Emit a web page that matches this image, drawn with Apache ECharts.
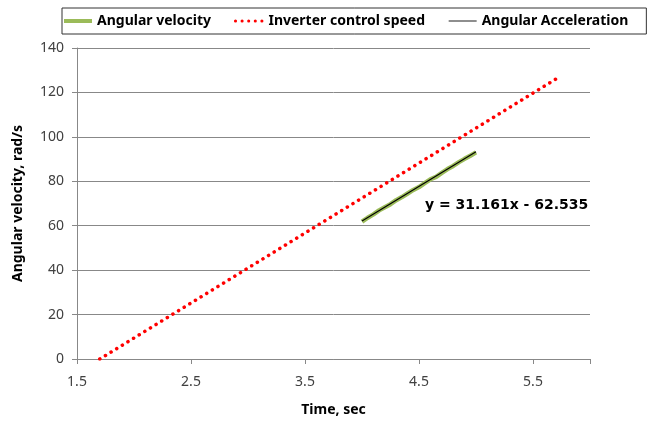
<!DOCTYPE html>
<html>
<head>
<meta charset="utf-8">
<script src="https://cdn.jsdelivr.net/npm/echarts@6/dist/echarts.min.js"></script>
<style>
  html, body { margin: 0; padding: 0; background: #fff; }
  #chart { width: 654px; height: 422px; }
</style>
</head>
<body>
<div id="chart"></div>
<script>
// measured angular velocity, 4.0 .. 5.0 s
const velTime = [4.0, 4.05, 4.1, 4.15, 4.2, 4.25, 4.3, 4.35, 4.4, 4.45, 4.5, 4.55, 4.6, 4.65, 4.7, 4.75, 4.8, 4.85, 4.9, 4.95, 5.0]
const velValues = [61.8, 63.6, 65.1, 66.9, 68.3, 69.7, 71.5, 72.9, 74.5, 76.1, 77.4, 79.2, 80.9, 82.0, 83.8, 85.5, 86.9, 88.6, 90.1, 91.5, 93.0]
// inverter control speed ramp
const invTime = [1.7, 5.7]
const invValues = [0, 126]
// linear trend line
const trendTime = [4.0, 5.0]
const trendValues = [62.1, 93.3]
const trendLabel = 'y = 31.161x - 62.535'

const pairs = (xs, ys) => xs.map((x, i) => [x, ys[i]])

const font = '"Noto Sans", "DejaVu Sans", sans-serif'
const dotted = [0.1, 6.5]
const myChart = echarts.init(document.getElementById('chart'))
const option = {
  animation: false,
  textStyle: { fontFamily: font },
  legend: {
    left: 62,
    top: 8,
    width: 640,
    padding: [6, 18, 6, 0],
    itemGap: 23,
    itemWidth: 28,
    itemHeight: 14,
    borderColor: '#333',
    borderWidth: 1,
    borderRadius: 0,
    itemStyle: { opacity: 0 },
    textStyle: { fontSize: 14, fontWeight: 'bold', color: '#000', fontFamily: font },
    data: [
      { name: 'Angular velocity', lineStyle: { width: 4, color: '#9bbb59' } },
      { name: 'Inverter control speed', lineStyle: { width: 3, color: '#ff0000', type: dotted, cap: 'round' } },
      { name: 'Angular Acceleration', lineStyle: { width: 1.2, color: '#444' } },
    ],
  },
  grid: { left: 77, right: 64, top: 48, bottom: 62 },
  xAxis: {
    type: 'value',
    min: 1.5,
    max: 6,
    interval: 1,
    name: 'Time, sec',
    nameLocation: 'middle',
    nameGap: 44,
    nameTextStyle: { fontSize: 14, fontWeight: 'bold', color: '#000' },
    axisLine: { lineStyle: { color: '#888' } },
    axisTick: { show: true, length: 5, lineStyle: { color: '#888' } },
    axisLabel: {
      fontSize: 14,
      color: '#404040',
      margin: 16,
      formatter: (v) => (v > 5.9 ? '' : v.toFixed(1)),
    },
    splitLine: { show: false },
  },
  yAxis: {
    type: 'value',
    min: 0,
    max: 140,
    interval: 20,
    name: 'Angular velocity, rad/s',
    nameLocation: 'middle',
    nameGap: 52,
    nameTextStyle: { fontSize: 14, fontWeight: 'bold', color: '#000' },
    axisLine: { show: true, lineStyle: { color: '#888' } },
    axisTick: { show: true, length: 5, lineStyle: { color: '#888' } },
    axisLabel: { fontSize: 14, color: '#404040', margin: 13 },
    splitLine: { lineStyle: { color: '#888' } },
  },
  graphic: [
    {
      type: 'text',
      left: 425,
      top: 198,
      style: { text: trendLabel, font: 'bold 14px "DejaVu Sans", sans-serif', fill: '#000' },
    },
  ],
  series: [
    {
      name: 'Angular velocity',
      type: 'line',
      symbol: 'none',
      color: '#9bbb59',
      lineStyle: { width: 4.5, color: '#9bbb59' },
      data: pairs(velTime, velValues),
      z: 2,
    },
    {
      name: 'Inverter control speed',
      type: 'line',
      symbol: 'none',
      color: '#ff0000',
      lineStyle: { width: 3.5, color: '#ff0000', type: dotted, cap: 'round' },
      data: pairs(invTime, invValues),
      z: 3,
    },
    {
      name: 'Angular Acceleration',
      type: 'line',
      symbol: 'none',
      color: '#000',
      lineStyle: { width: 1.2, color: '#000' },
      data: pairs(trendTime, trendValues),
      z: 4,
    },
  ],
}
myChart.setOption(option)
</script>
</body>
</html>
